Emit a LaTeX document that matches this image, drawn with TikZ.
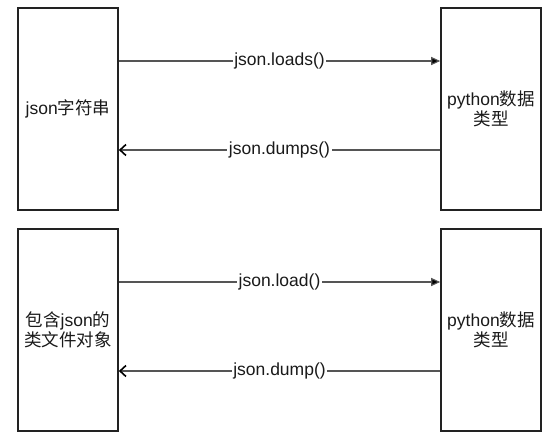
\documentclass[tikz,border=0pt]{standalone}
\usepackage{fontspec}
\setmainfont{Liberation Sans}
\newfontfamily\cjk{Noto Sans CJK SC}
\usetikzlibrary{arrows.meta}
\definecolor{boxline}{HTML}{222222}
\definecolor{arrline}{HTML}{555555}
\definecolor{txt}{HTML}{1A1A1A}
\begin{document}
\begin{tikzpicture}[x=1pt,y=1pt,
  box/.style={draw=boxline,line width=1.6pt,minimum width=100pt,minimum height=202pt,inner sep=0pt,align=center,text=txt,font=\fontsize{17.5}{20.4}\selectfont},
  conn/.style={draw=arrline,line width=1.1pt},
  fwd/.style={conn,-{Triangle[length=9pt,width=8pt,fill=black]}},
  bwd/.style={conn,-{Straight Barb[length=6pt,width=11pt,line width=1.6pt,color=black]}},
  lbl/.style={fill=white,inner sep=1.5pt,text=txt,font=\fontsize{17.5}{20.4}\selectfont}]
\useasboundingbox (0,0) rectangle (554,442);
\node[box] (tl) at (68,333) {json{\cjk 字符串}};
\node[box] (tr) at (491,333) {python{\cjk 数据}\\{\cjk 类型}};
\node[box] (bl) at (68,112) {{\cjk 包含}json{\cjk 的}\\{\cjk 类文件对象}};
\node[box] (br) at (491,112) {python{\cjk 数据}\\{\cjk 类型}};
\coordinate (y1) at (0,381);
\coordinate (y2) at (0,292);
\coordinate (y3) at (0,160);
\coordinate (y4) at (0,71);
\draw[fwd] (tl.east |- y1) -- node[lbl] {json.loads()} (tr.west |- y1);
\draw[bwd] (tr.west |- y2) -- node[lbl] {json.dumps()} (tl.east |- y2);
\draw[fwd] (bl.east |- y3) -- node[lbl] {json.load()} (br.west |- y3);
\draw[bwd] (br.west |- y4) -- node[lbl] {json.dump()} (bl.east |- y4);
\end{tikzpicture}
\end{document}
